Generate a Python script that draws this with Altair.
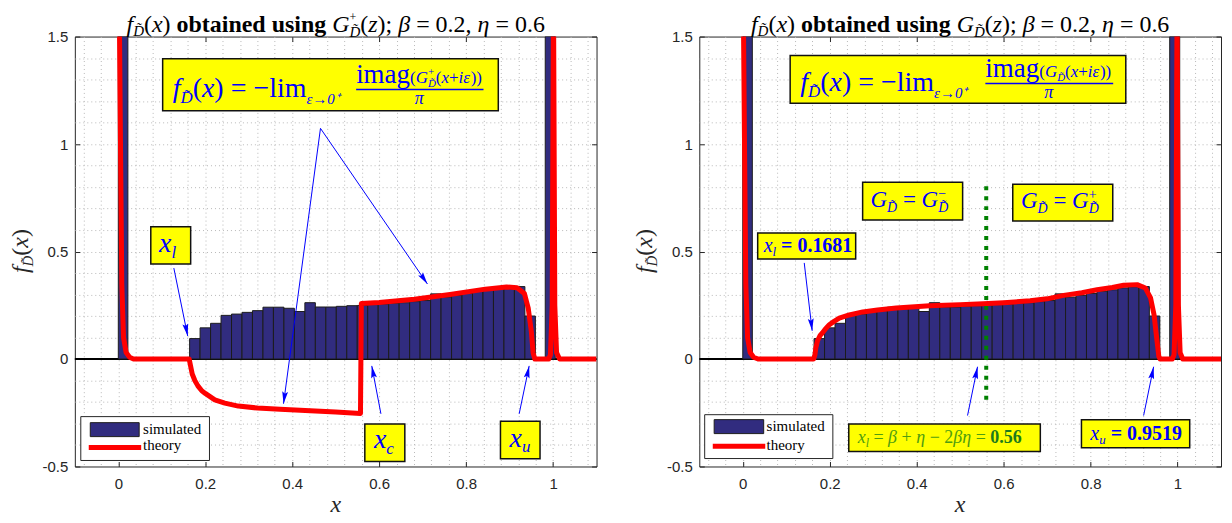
import math
import altair as alt
import pandas as pd

# ---------------- chart values ----------------
bin_start = 0.164
bin_width = 0.0241
sim_heights = [0.095, 0.145, 0.166, 0.203, 0.209, 0.217, 0.225, 0.241, 0.241, 0.236,
               0.221, 0.262, 0.242, 0.242, 0.245, 0.248, 0.249, 0.253, 0.256, 0.259,
               0.262, 0.267, 0.272, 0.303, 0.288, 0.296, 0.305, 0.315, 0.322, 0.331,
               0.336, 0.337, 0.2]
spike_lo = [0.0, 0.982]
spike_hi = [0.022, 1.005]
spike_heights = [1.5, 1.5]

# theory obtained with G+ (left panel)
theory_plus_x = [0.002, 0.005, 0.008, 0.012, 0.018, 0.026, 0.035, 0.163, 0.166, 0.17,
                 0.176, 0.183, 0.192, 0.2, 0.222, 0.245, 0.276, 0.32, 0.372, 0.43,
                 0.5, 0.557, 0.559, 0.6, 0.681, 0.763, 0.844, 0.893, 0.917, 0.934,
                 0.943, 0.95, 0.954, 0.958, 0.99, 0.994, 0.998, 1.001, 1.004, 1.008,
                 1.015, 1.1]
theory_plus_y = [1.7, 1.0, 0.35, 0.1, 0.03, 0.008, 0.0, 0.0, -0.03, -0.07,
                 -0.1, -0.125, -0.148, -0.16, -0.19, -0.205, -0.219, -0.228, -0.234, -0.24,
                 -0.246, -0.253, 0.258, 0.263, 0.278, 0.3, 0.325, 0.335, 0.331, 0.305,
                 0.235, 0.128, 0.03, 0.0, 0.0, 0.02, 0.25, 1.7, 0.25, 0.03,
                 0.0, 0.0]
# theory obtained with G (right panel)
theory_g_x = [0.001, 0.004, 0.007, 0.011, 0.017, 0.025, 0.035, 0.163, 0.166, 0.168,
              0.172, 0.178, 0.183, 0.19, 0.199, 0.21, 0.222, 0.245, 0.276, 0.31,
              0.353, 0.43, 0.5, 0.553, 0.6, 0.661, 0.7, 0.738, 0.78, 0.815,
              0.85, 0.876, 0.907, 0.926, 0.938, 0.946, 0.952, 0.957, 0.96, 0.988,
              0.992, 0.996, 0.999, 1.002, 1.006, 1.012, 1.1]
theory_g_y = [1.7, 1.0, 0.35, 0.1, 0.03, 0.008, 0.0, 0.0, 0.02, 0.051,
              0.085, 0.11, 0.121, 0.14, 0.159, 0.175, 0.19, 0.205, 0.219, 0.228,
              0.237, 0.248, 0.253, 0.257, 0.262, 0.271, 0.28, 0.296, 0.308, 0.322,
              0.333, 0.343, 0.346, 0.33, 0.284, 0.206, 0.098, 0.012, 0.0, 0.0,
              0.02, 0.25, 1.7, 0.25, 0.03, 0.0, 0.0]
assert len(theory_plus_x) == len(theory_plus_y)
assert len(theory_g_x) == len(theory_g_y)

x_c = 0.56
xl_text = "0.1681"
xu_text = "0.9519"
xc_text = "0.56"
beta_text = "0.2"
eta_text = "0.6"

x_major = [0, 0.2, 0.4, 0.6, 0.8, 1]
y_major = [-0.5, 0, 0.5, 1, 1.5]
x_minor = [round(-0.08 + 0.04 * i, 2) for i in range(30)]
y_minor = [round(-0.4 + 0.1 * i, 1) for i in range(19)]

# ---------------- layout / style ----------------
XMIN, XMAX, YMIN, YMAX = -0.1, 1.1, -0.5, 1.5
W, H = 523, 431
PX = W / (XMAX - XMIN)
PY = H / (YMAX - YMIN)
NAVY = "#312C7F"
RED = "#FF0000"
BLUE = "#0000FF"
YELLOW = "#FFFF00"
INK = "#262626"
GREEN = "#008000"
SERIF = "Liberation Serif"

xsc = alt.Scale(domain=[XMIN, XMAX], nice=False, zero=False)
ysc = alt.Scale(domain=[YMIN, YMAX], nice=False, zero=False)


def ex(f, axis=None):
    return alt.X(f"{f}:Q", scale=xsc, axis=axis)


def ey(f, axis=None):
    return alt.Y(f"{f}:Q", scale=ysc, axis=axis)


grid_x = alt.Axis(orient="bottom", values=x_minor, grid=True, gridDash=[1, 3], gridColor="#b9b9b9",
                  gridWidth=1, labels=False, ticks=False, domain=False, title=None)
grid_y = alt.Axis(orient="left", values=y_minor, grid=True, gridDash=[1, 3], gridColor="#b9b9b9",
                  gridWidth=1, labels=False, ticks=False, domain=False, title=None)
lab_x = alt.Axis(orient="bottom", values=x_major, labelExpr="'' + datum.value", grid=False, domain=False,
                 ticks=True, tickSize=5, tickColor=INK, tickWidth=1, offset=-5, labelPadding=10,
                 labelFont="Liberation Sans", labelFontSize=15, labelColor=INK, title=None)
lab_y = alt.Axis(orient="left", values=y_major, labelExpr="'' + datum.value", grid=False, domain=False,
                 ticks=True, tickSize=5, tickColor=INK, tickWidth=1, offset=-5, labelPadding=7,
                 labelFont="Liberation Sans", labelFontSize=15, labelColor=INK, title=None)
top_x = alt.Axis(orient="top", values=x_major, labels=False, grid=False, domain=False, ticks=True,
                 tickSize=5, tickColor=INK, tickWidth=1, offset=-5, title=None)
right_y = alt.Axis(orient="right", values=y_major, labels=False, grid=False, domain=False, ticks=True,
                   tickSize=5, tickColor=INK, tickWidth=1, offset=-5, title=None)

# Times / Liberation Serif advance widths (per 1000 em)
REG = {" ": 250, "(": 333, ")": 333, "+": 564, ",": 250, ".": 250, ";": 278, "=": 564, "\u2212": 564,
       "a": 444, "b": 500, "d": 500, "e": 444, "g": 500, "i": 278, "l": 278, "m": 778, "n": 500,
       "o": 500, "s": 389, "t": 278, "u": 500, "x": 500, "y": 500, "z": 444, "r": 333, "h": 500,
       "β": 500, "η": 500, "ε": 439, "π": 549, "→": 1000, "⁺": 400, "G": 722, "D": 722, "f": 333,
       "\u0303": 0}
ITA = dict(REG)
ITA.update({"+": 675, "=": 675, "\u2212": 675, "f": 278, "x": 444, "z": 389, "l": 278, "u": 500,
            "c": 444, "i": 278, "π": 500})
BOLD = dict(REG)
BOLD.update({"=": 570, "a": 500, "b": 556, "d": 556, "n": 556, "t": 333, "u": 556, "r": 444})


def twidth(s, st, wt, sz):
    tab = BOLD if wt == "bold" else (ITA if st == "italic" else REG)
    return sum(tab.get(ch, 500) for ch in s) * sz / 1000.0


def P(t, st="normal", wt="normal", sz=20, dy=0, adv=True, c=None):
    return dict(t=t, st=st, wt=wt, sz=sz, dy=dy, adv=adv, c=c)


def rich(rows, x0, y0, pieces, color, align="left", angle=0):
    total = sum(twidth(p["t"], p["st"], p["wt"], p["sz"]) for p in pieces if p["adv"])
    cur = -total / 2 if align == "center" else 0.0
    for p in pieces:
        t = p["t"]
        sp = twidth(" ", p["st"], p["wt"], p["sz"])
        lead = len(t) - len(t.lstrip(" "))
        trail = len(t) - len(t.rstrip(" "))
        core = t.strip(" ")
        c0 = cur + lead * sp
        if angle == 0:
            x = x0 + c0 / PX
            y = y0 - p["dy"] / PY
        else:
            x = x0 + p["dy"] / PX
            y = y0 + c0 / PY
        if core:
            rows.append(dict(x=x, y=y, t=core, st=p["st"], wt=p["wt"], sz=p["sz"],
                             c=p["c"] or color, a=angle))
        if p["adv"]:
            cur = c0 + twidth(core, p["st"], p["wt"], p["sz"]) + trail * sp


def arrow(rules, heads, x1, y1, x2, y2):
    rules.append(dict(x=x1, y=y1, x2=x2, y2=y2, c=BLUE, w=1))
    dxp = (x2 - x1) * PX
    dyp = -(y2 - y1) * PY
    L = math.hypot(dxp, dyp)
    ux, uy = dxp / L, dyp / L
    heads.append(dict(x=x2 - 7 * ux / PX, y=y2 + 7 * uy / PY,
                      a=math.degrees(math.atan2(ux, -uy)) % 360))


HEAD = "M0,-1L0.42,0.75L0,0.45L-0.42,0.75Z"


def panel(pid):
    plus = pid == 0
    layers = []
    if plus:
        # invisible frame that fixes the page extent (top-left / bottom of the figure)
        fr = pd.DataFrame({"x0": [XMIN - 74 / PX + 2 / PX], "x1": [XMIN - 60 / PX],
                           "y0": [YMAX + 34 / PY], "y1": [YMAX - 485 / PY]})
        layers.append(alt.Chart(fr).mark_rect(opacity=0).encode(x=ex("x0"), x2="x1", y=ey("y0"), y2="y1"))
    # zero line
    layers.append(alt.Chart(pd.DataFrame({"y": [0]})).mark_rule(color="#000000", strokeWidth=2)
                  .encode(y=ey("y")))
    # histogram
    edges = [round(bin_start + bin_width * i, 4) for i in range(len(sim_heights) + 1)]
    hist = pd.DataFrame({"x0": edges[:-1], "x1": edges[1:], "h": sim_heights, "b": 0.0})
    layers.append(alt.Chart(hist).mark_rect(fill=NAVY, stroke="#1c1c1c", strokeWidth=1)
                  .encode(x=ex("x0", grid_x), x2="x1", y=ey("h", grid_y), y2="b"))
    sp = pd.DataFrame({"x0": spike_lo, "x1": spike_hi, "h": spike_heights, "b": 0.0})
    layers.append(alt.Chart(sp).mark_rect(fill=NAVY, stroke="#1c1c1c", strokeWidth=1, clip=True)
                  .encode(x=ex("x0"), x2="x1", y=ey("h"), y2="b"))
    # theory
    tx = theory_plus_x if plus else theory_g_x
    ty = theory_plus_y if plus else theory_g_y
    th = pd.DataFrame({"x": tx, "y": ty, "i": list(range(len(tx)))})
    layers.append(alt.Chart(th).mark_line(color=RED, strokeWidth=5, clip=True, strokeJoin="round")
                  .encode(x=ex("x", lab_x), y=ey("y", lab_y), order="i:Q"))
    if not plus:
        gl = pd.DataFrame({"x": [x_c], "y0": [0.804], "y1": [-0.194]})
        layers.append(alt.Chart(gl).mark_rule(color=GREEN, strokeWidth=4, strokeDash=[4, 6])
                      .encode(x=ex("x"), y=ey("y0"), y2="y1"))

    boxes, rules, heads, texts = [], [], [], []

    def box(x0, x1, y0, y1, fill=YELLOW, stroke="#111111", sw=1.5):
        boxes.append(dict(x0=x0, x1=x1, y0=y0, y1=y1, f=fill, s=stroke, w=sw))

    M, m = 28, 17
    if plus:
        box(0.102, 0.874, 1.397, 1.155)
        rich(texts, 0.125, 1.217, [P("f", "italic", sz=M), P("D\u0303", "italic", sz=m, dy=6),
                                   P("(", sz=M), P("x", "italic", sz=M), P(")", sz=M),
                                   P(" = \u2212lim", sz=M), P("ε→0⁺", "italic", sz=15, dy=7)], BLUE)
        rich(texts, 0.547, 1.282, [P("imag", sz=27), P("(", sz=17), P("G", "italic", sz=17),
                                   P("+", sz=11, dy=-8, adv=False), P("D\u0303", "italic", sz=11, dy=4),
                                   P("(", sz=17), P("x", "italic", sz=17), P("+", sz=17),
                                   P("iε", "italic", sz=17), P("))", sz=17)], BLUE)
        rules.append(dict(x=0.547, y=1.254, x2=0.840, y2=1.254, c=BLUE, w=1.5))
        rich(texts, 0.692, 1.184, [P("π", "italic", sz=18)], BLUE, align="center")
        box(0.0747, 0.1664, 0.615, 0.442)
        rich(texts, 0.0936, 0.498, [P("x", "italic", sz=28), P("l", "italic", sz=17, dy=6)], BLUE)
        arrow(rules, heads, 0.1277, 0.423, 0.1596, 0.107)
        arrow(rules, heads, 0.465, 1.073, 0.711, 0.349)
        arrow(rules, heads, 0.465, 1.073, 0.380, -0.208)
        box(0.567, 0.659, -0.302, -0.477)
        rich(texts, 0.588, -0.416, [P("x", "italic", sz=28), P("c", "italic", sz=17, dy=6)], BLUE)
        arrow(rules, heads, 0.604, -0.255, 0.583, -0.032)
        box(0.879, 0.970, -0.290, -0.464)
        rich(texts, 0.900, -0.407, [P("x", "italic", sz=28), P("u", "italic", sz=17, dy=6)], BLUE)
        arrow(rules, heads, 0.922, -0.255, 0.945, -0.032)
        box(-0.0863, 0.2097, -0.268, -0.472, fill="#FFFFFF", stroke=INK, sw=1)
        box(-0.0645, 0.048, -0.296, -0.361, fill=NAVY, stroke="#1c1c1c", sw=1)
        rules.append(dict(x=-0.068, y=-0.412, x2=0.0526, y2=-0.412, c=RED, w=5))
        rich(texts, 0.057, -0.347, [P("simulated", sz=15)], "#000000")
        rich(texts, 0.057, -0.421, [P("theory", sz=15)], "#000000")
    else:
        box(0.109, 0.881, 1.412, 1.190)
        rich(texts, 0.1323, 1.245, [P("f", "italic", sz=M), P("D\u0303", "italic", sz=m, dy=6),
                                    P("(", sz=M), P("x", "italic", sz=M), P(")", sz=M),
                                    P(" = \u2212lim", sz=M), P("ε→0⁺", "italic", sz=15, dy=7)], BLUE)
        rich(texts, 0.558, 1.310, [P("imag", sz=27), P("(", sz=17), P("G", "italic", sz=17),
                                   P("D\u0303", "italic", sz=11, dy=4),
                                   P("(", sz=17), P("x", "italic", sz=17), P("+", sz=17),
                                   P("iε", "italic", sz=17), P("))", sz=17)], BLUE)
        rules.append(dict(x=0.558, y=1.282, x2=0.852, y2=1.282, c=BLUE, w=1.5))
        rich(texts, 0.704, 1.212, [P("π", "italic", sz=18)], BLUE, align="center")
        box(0.2757, 0.5057, 0.8225, 0.6462)
        rich(texts, 0.2939, 0.7065, [P("G", "italic", sz=23), P("D\u0303", "italic", sz=14, dy=5),
                                     P(" = ", sz=23), P("G", "italic", sz=23),
                                     P("\u2212", sz=14, dy=-9, adv=False),
                                     P("D\u0303", "italic", sz=14, dy=5)], BLUE)
        box(0.621, 0.851, 0.813, 0.6415)
        rich(texts, 0.640, 0.702, [P("G", "italic", sz=23), P("D\u0303", "italic", sz=14, dy=5),
                                   P(" = ", sz=23), P("G", "italic", sz=23),
                                   P("+", sz=14, dy=-9, adv=False),
                                   P("D\u0303", "italic", sz=14, dy=5)], BLUE)
        box(0.0343, 0.2597, 0.586, 0.465)
        rich(texts, 0.048, 0.498, [P("x", "italic", sz=20), P("l", "italic", sz=13, dy=4),
                                   P(" = " + xl_text, wt="bold", sz=20)], BLUE)
        arrow(rules, heads, 0.1414, 0.447, 0.1596, 0.131)
        box(0.2438, 0.6844, -0.302, -0.430)
        G1, G2 = "#4f9d10", "#1c7a1c"
        rich(texts, 0.2643, -0.393, [P("x", "italic", sz=18), P("l", "italic", sz=12, dy=4),
                                     P(" = ", sz=18), P("β", "italic", sz=18), P(" + ", sz=18),
                                     P("η", "italic", sz=18), P(" \u2212 2", sz=18),
                                     P("βη", "italic", sz=18), P(" = ", sz=18),
                                     P(xc_text, wt="bold", sz=18, c=G2)], G1)
        arrow(rules, heads, 0.517, -0.263, 0.540, -0.036)
        box(0.779, 1.028, -0.283, -0.413)
        rich(texts, 0.7995, -0.379, [P("x", "italic", sz=20), P("u", "italic", sz=13, dy=4),
                                     P(" = " + xu_text, wt="bold", sz=20)], BLUE)
        arrow(rules, heads, 0.922, -0.263, 0.945, -0.036)
        box(-0.0876, 0.2072, -0.259, -0.463, fill="#FFFFFF", stroke=INK, sw=1)
        box(-0.0658, 0.0481, -0.282, -0.347, fill=NAVY, stroke="#1c1c1c", sw=1)
        rules.append(dict(x=-0.069, y=-0.406, x2=0.0517, y2=-0.406, c=RED, w=5))
        rich(texts, 0.0548, -0.333, [P("simulated", sz=15)], "#000000")
        rich(texts, 0.0548, -0.421, [P("theory", sz=15)], "#000000")

    T, t = 24, 15
    head = [P("f", "italic", sz=T), P("D\u0303", "italic", sz=t, dy=4), P("(", sz=T), P("x", "italic", sz=T),
            P(")", sz=T), P(" obtained using ", wt="bold", sz=T), P("G", "italic", sz=T)]
    if plus:
        head += [P("+", sz=12, dy=-11, adv=False)]
    tail = [P("D\u0303", "italic", sz=t, dy=5), P("(", sz=T),
            P("z", "italic", sz=T), P("); ", sz=T), P("β", "italic", sz=T), P(" = " + beta_text + ", ", sz=T),
            P("η", "italic", sz=T), P(" = " + eta_text, sz=T)]
    rich(texts, 0.5, YMAX + 5 / PY, head + tail, "#000000", align="center")
    rich(texts, XMIN - 47 / PX, 0.502, [P("f", "italic", sz=24), P("D\u0303", "italic", sz=15, dy=5),
                                        P("(", sz=24), P("x", "italic", sz=24), P(")", sz=24)],
         INK, align="center", angle=270)
    rich(texts, 0.5, YMIN - 46 / PY, [P("x", "italic", sz=24)], INK, align="center")

    bdf = pd.DataFrame(boxes)
    layers.append(alt.Chart(bdf).mark_rect().encode(
        x=ex("x0", top_x), x2="x1", y=ey("y0", right_y), y2="y1",
        fill=alt.Fill("f:N", scale=None), stroke=alt.Stroke("s:N", scale=None),
        strokeWidth=alt.StrokeWidth("w:Q", scale=None)))
    rdf = pd.DataFrame(rules)
    layers.append(alt.Chart(rdf).mark_rule().encode(
        x=ex("x"), x2="x2", y=ey("y"), y2="y2",
        color=alt.Color("c:N", scale=None), strokeWidth=alt.StrokeWidth("w:Q", scale=None)))
    hdf = pd.DataFrame(heads)
    layers.append(alt.Chart(hdf).mark_point(shape=HEAD, filled=True, fill=BLUE, size=196, opacity=1,
                                            strokeWidth=0)
                  .encode(x=ex("x"), y=ey("y"), angle=alt.Angle("a:Q", scale=None)))
    tdf = pd.DataFrame(texts)
    for (st, wt), g in tdf.groupby(["st", "wt"]):
        layers.append(alt.Chart(g.reset_index(drop=True)).mark_text(
            align="left", baseline="alphabetic", font=SERIF, fontStyle=st, fontWeight=wt).encode(
            x=ex("x"), y=ey("y"), text="t:N", size=alt.Size("sz:Q", scale=None),
            color=alt.Color("c:N", scale=None), angle=alt.Angle("a:Q", scale=None)))
    return alt.layer(*layers).properties(width=W, height=H).resolve_axis(x="independent", y="independent")


chart = alt.hconcat(panel(0), panel(1), spacing=103, bounds="flush").properties(
    padding={"left": -6, "top": -7, "right": 1, "bottom": -6},
    autosize=alt.AutoSizeParams(type="pad"),
).configure_view(stroke=INK, strokeWidth=1)

chart.save("out.html", embed_options={"renderer": "svg", "actions": False})
